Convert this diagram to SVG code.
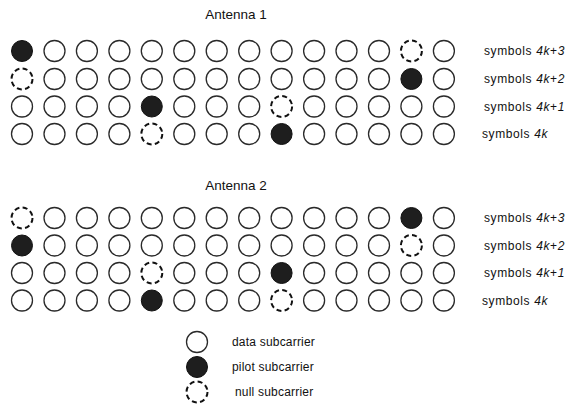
<svg xmlns="http://www.w3.org/2000/svg" width="573" height="416" viewBox="0 0 573 416">
<style>
.d{fill:#fff;stroke:#2a2a2a;stroke-width:1.3}
.p{fill:#1e1e1e;stroke:#111;stroke-width:1}
.n{fill:#fff;stroke:#111;stroke-width:2;stroke-dasharray:5 3.3}
.t{font-family:"Liberation Sans",Arial,sans-serif;font-size:13.5px;fill:#111}
.l{font-family:"Liberation Sans",Arial,sans-serif;font-size:12px;fill:#111;letter-spacing:0.6px}
.g{font-family:"Liberation Sans",Arial,sans-serif;font-size:12px;fill:#111;letter-spacing:0.2px}
.i{font-style:italic}
</style>
<defs>
<circle id="D" r="10.5" class="d"/>
<circle id="P" r="10.5" class="p"/>
<circle id="N" r="10.5" class="n"/>
</defs>
<rect width="573" height="416" fill="#fff"/>
<text class="t" x="236" y="19" text-anchor="middle">Antenna  1</text>
<text class="t" x="236" y="190" text-anchor="middle">Antenna  2</text>
<g id="antenna1">
<g id="a1r3" transform="translate(0,51)">
<use href="#P" x="22"/><use href="#D" x="54.5"/><use href="#D" x="86.9"/><use href="#D" x="119.4"/><use href="#D" x="151.8"/><use href="#D" x="184.3"/><use href="#D" x="216.7"/><use href="#D" x="249.2"/><use href="#D" x="281.6"/><use href="#D" x="314.1"/><use href="#D" x="346.5"/><use href="#D" x="379"/><use href="#N" x="411.4"/><use href="#D" x="443.9"/>
</g>
<g id="a1r2" transform="translate(0,79)">
<use href="#N" x="22"/><use href="#D" x="54.5"/><use href="#D" x="86.9"/><use href="#D" x="119.4"/><use href="#D" x="151.8"/><use href="#D" x="184.3"/><use href="#D" x="216.7"/><use href="#D" x="249.2"/><use href="#D" x="281.6"/><use href="#D" x="314.1"/><use href="#D" x="346.5"/><use href="#D" x="379"/><use href="#P" x="411.4"/><use href="#D" x="443.9"/>
</g>
<g id="a1r1" transform="translate(0,106.5)">
<use href="#D" x="22"/><use href="#D" x="54.5"/><use href="#D" x="86.9"/><use href="#D" x="119.4"/><use href="#P" x="151.8"/><use href="#D" x="184.3"/><use href="#D" x="216.7"/><use href="#D" x="249.2"/><use href="#N" x="281.6"/><use href="#D" x="314.1"/><use href="#D" x="346.5"/><use href="#D" x="379"/><use href="#D" x="411.4"/><use href="#D" x="443.9"/>
</g>
<g id="a1r0" transform="translate(0,134)">
<use href="#D" x="22"/><use href="#D" x="54.5"/><use href="#D" x="86.9"/><use href="#D" x="119.4"/><use href="#N" x="151.8"/><use href="#D" x="184.3"/><use href="#D" x="216.7"/><use href="#D" x="249.2"/><use href="#P" x="281.6"/><use href="#D" x="314.1"/><use href="#D" x="346.5"/><use href="#D" x="379"/><use href="#D" x="411.4"/><use href="#D" x="443.9"/>
</g>
</g>
<g id="antenna2">
<g id="a2r3" transform="translate(0,218)">
<use href="#N" x="22"/><use href="#D" x="54.5"/><use href="#D" x="86.9"/><use href="#D" x="119.4"/><use href="#D" x="151.8"/><use href="#D" x="184.3"/><use href="#D" x="216.7"/><use href="#D" x="249.2"/><use href="#D" x="281.6"/><use href="#D" x="314.1"/><use href="#D" x="346.5"/><use href="#D" x="379"/><use href="#P" x="411.4"/><use href="#D" x="443.9"/>
</g>
<g id="a2r2" transform="translate(0,245.5)">
<use href="#P" x="22"/><use href="#D" x="54.5"/><use href="#D" x="86.9"/><use href="#D" x="119.4"/><use href="#D" x="151.8"/><use href="#D" x="184.3"/><use href="#D" x="216.7"/><use href="#D" x="249.2"/><use href="#D" x="281.6"/><use href="#D" x="314.1"/><use href="#D" x="346.5"/><use href="#D" x="379"/><use href="#N" x="411.4"/><use href="#D" x="443.9"/>
</g>
<g id="a2r1" transform="translate(0,273)">
<use href="#D" x="22"/><use href="#D" x="54.5"/><use href="#D" x="86.9"/><use href="#D" x="119.4"/><use href="#N" x="151.8"/><use href="#D" x="184.3"/><use href="#D" x="216.7"/><use href="#D" x="249.2"/><use href="#P" x="281.6"/><use href="#D" x="314.1"/><use href="#D" x="346.5"/><use href="#D" x="379"/><use href="#D" x="411.4"/><use href="#D" x="443.9"/>
</g>
<g id="a2r0" transform="translate(0,300.5)">
<use href="#D" x="22"/><use href="#D" x="54.5"/><use href="#D" x="86.9"/><use href="#D" x="119.4"/><use href="#P" x="151.8"/><use href="#D" x="184.3"/><use href="#D" x="216.7"/><use href="#D" x="249.2"/><use href="#N" x="281.6"/><use href="#D" x="314.1"/><use href="#D" x="346.5"/><use href="#D" x="379"/><use href="#D" x="411.4"/><use href="#D" x="443.9"/>
</g>
</g>
<g id="labels">
<text class="l" x="484" y="55">symbols <tspan class="i">4k</tspan>+<tspan class="i">3</tspan></text>
<text class="l" x="484" y="83">symbols <tspan class="i">4k</tspan>+<tspan class="i">2</tspan></text>
<text class="l" x="484" y="110.5">symbols <tspan class="i">4k</tspan>+<tspan class="i">1</tspan></text>
<text class="l" x="482" y="138">symbols <tspan class="i">4k</tspan></text>
<text class="l" x="484" y="222">symbols <tspan class="i">4k</tspan>+<tspan class="i">3</tspan></text>
<text class="l" x="484" y="249.5">symbols <tspan class="i">4k</tspan>+<tspan class="i">2</tspan></text>
<text class="l" x="484" y="277">symbols <tspan class="i">4k</tspan>+<tspan class="i">1</tspan></text>
<text class="l" x="482" y="304.5">symbols <tspan class="i">4k</tspan></text>
</g>
<g id="legend">
<use href="#D" x="197" y="342"/>
<use href="#P" x="197" y="367"/>
<use href="#N" x="197" y="392"/>
<text class="g" x="232" y="346">data subcarrier</text>
<text class="g" x="232" y="371">pilot subcarrier</text>
<text class="g" x="235" y="396">null subcarrier</text>
</g>
</svg>
